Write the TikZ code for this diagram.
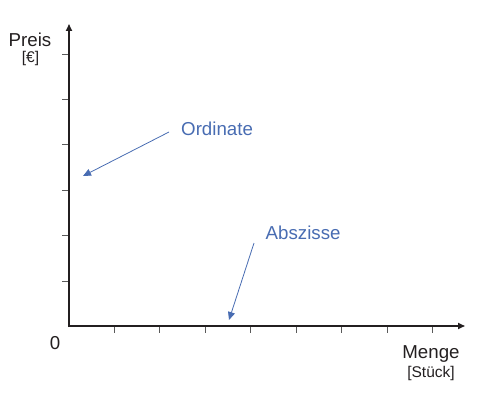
\documentclass[tikz,border=0pt]{standalone}
\usepackage{fontspec}
\setmainfont{Liberation Sans}
\usetikzlibrary{arrows.meta}
\definecolor{lblue}{RGB}{72,108,178}
\definecolor{axisc}{RGB}{35,31,32}
\definecolor{tickc}{RGB}{90,90,90}
\tikzset{
  axisline/.style={draw=axisc, line width=1.6pt, -{Triangle[length=7pt,width=6pt]}},
  tickline/.style={draw=tickc, line width=0.9pt},
  bigtxt/.style={inner sep=0pt, font=\fontsize{18.7}{20}\selectfont, text=axisc},
  smalltxt/.style={inner sep=0pt, font=\fontsize{15.5}{17}\selectfont, text=axisc},
  bluetxt/.style={inner sep=0pt, font=\fontsize{18.7}{20}\selectfont, text=lblue},
  bluearrow/.style={draw=lblue, line width=0.8pt, -{Triangle[length=8pt,width=7pt]}}
}
\begin{document}
\begin{tikzpicture}[x=1pt,y=-1pt]
\useasboundingbox (0,0) rectangle (500,393);
\coordinate (O) at (69,326);
\coordinate (Ytip) at (69,24);
\coordinate (Xtip) at (465,326);
% ticks
\foreach \yy in {54,99.4,144.8,190.2,235.6,281} {
  \draw[tickline] (62,\yy) -- (69,\yy);
}
\foreach \xx in {114,159.5,205,250.5,296,341.5,387,432.5} {
  \draw[tickline] (\xx,326) -- (\xx,333);
}
\draw[axisline] (69,327) -- (Ytip);
\draw[axisline] (68.2,326) -- (Xtip);
% labels
\node[bigtxt] (preis) at (30,40) {Preis};
\node[smalltxt] (euro) at (30.5,58.5) {[€]};
\node[bigtxt] (null) at (55,343) {0};
\node[bigtxt] (menge) at (431,354) {Menge};
\node[smalltxt] (stueck) at (431,373) {[Stück]};
% blue annotations
\node[bluetxt, anchor=west] (ord) at (181,129) {Ordinate};
\node[bluetxt, anchor=west] (abs) at (265.5,233) {Abszisse};
\coordinate (ordS) at (169,132);
\coordinate (ordE) at (83,176);
\coordinate (absS) at (254,243);
\coordinate (absE) at (229,320);
\draw[bluearrow] (ordS) -- (ordE);
\draw[bluearrow] (absS) -- (absE);
\end{tikzpicture}
\end{document}
